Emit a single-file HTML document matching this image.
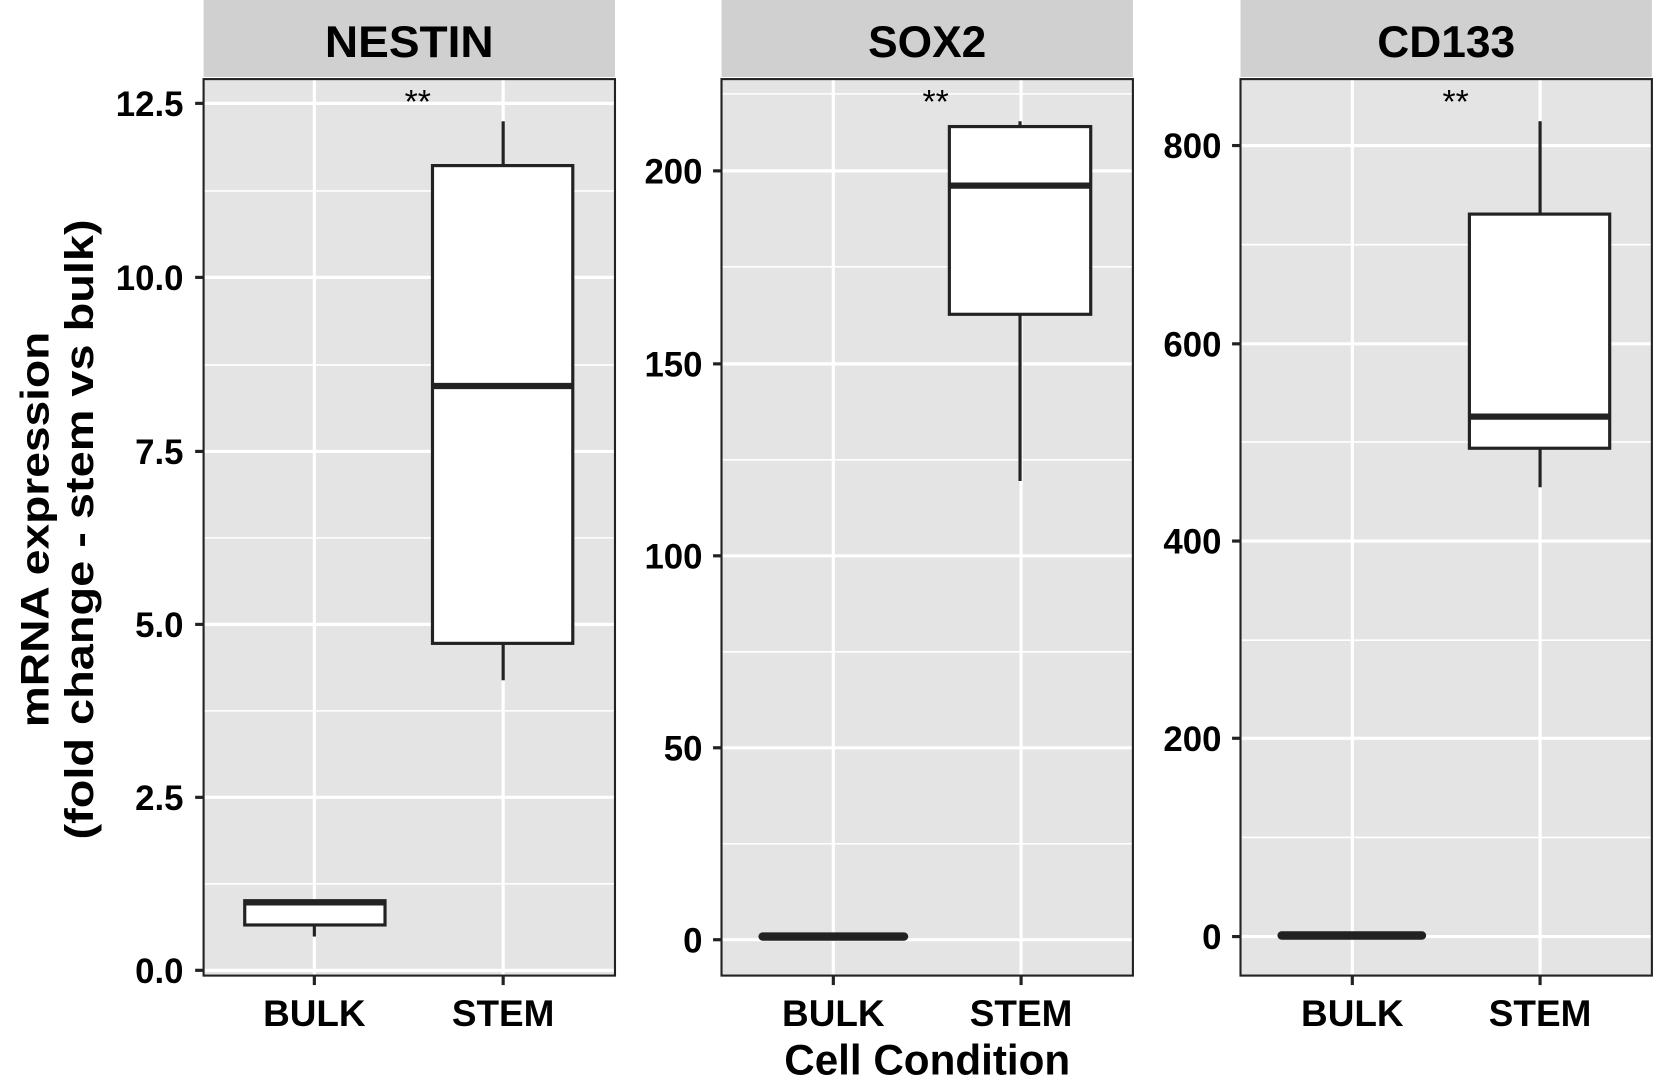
<!DOCTYPE html>
<html><head><style>html,body{margin:0;padding:0;background:#fff}svg{display:block}</style></head>
<body>
<svg width="1654" height="1080" viewBox="0 0 1568 1024" preserveAspectRatio="none" xmlns="http://www.w3.org/2000/svg" font-family="Liberation Sans, Arial, sans-serif" font-weight="bold">
<rect width="1568" height="1024" fill="#fff"/>
<!-- Panel 1 -->
<g>
<rect x="193" y="0" width="390" height="73" fill="#d0d0d0"/>
<text x="388" y="54" font-size="42" text-anchor="middle" textLength="160" lengthAdjust="spacingAndGlyphs">NESTIN</text>
<rect x="193" y="75" width="390" height="850" fill="#e4e4e4"/>
<g stroke="#fff" stroke-width="1.5"><line x1="193" x2="583" y1="181" y2="181"/><line x1="193" x2="583" y1="346" y2="346"/><line x1="193" x2="583" y1="510" y2="510"/><line x1="193" x2="583" y1="674" y2="674"/><line x1="193" x2="583" y1="838" y2="838"/></g>
<g stroke="#fff" stroke-width="3"><line x1="193" x2="583" y1="98" y2="98"/><line x1="193" x2="583" y1="263" y2="263"/><line x1="193" x2="583" y1="428" y2="428"/><line x1="193" x2="583" y1="592" y2="592"/><line x1="193" x2="583" y1="756" y2="756"/><line x1="193" x2="583" y1="920" y2="920"/><line x1="298" x2="298" y1="75" y2="925"/><line x1="477" x2="477" y1="75" y2="925"/></g>
<g stroke="#222" stroke-width="3"><line x1="298" x2="298" y1="877" y2="888"/><rect x="232" y="854" width="133" height="23" fill="#fff"/><line x1="232" x2="365" y1="856" y2="856" stroke-width="5"/>
<line x1="477" x2="477" y1="115" y2="157"/><line x1="477" x2="477" y1="610" y2="645"/><rect x="410" y="157" width="133" height="453" fill="#fff"/><line x1="410" x2="543" y1="366" y2="366" stroke-width="6"/></g>
<rect x="193" y="75" width="390" height="850" fill="none" stroke="#222" stroke-width="2"/>
<text x="396" y="107" font-size="32" font-weight="normal" text-anchor="middle">**</text>
<g stroke="#222" stroke-width="3"><line x1="185" x2="193" y1="98" y2="98"/><line x1="185" x2="193" y1="263" y2="263"/><line x1="185" x2="193" y1="428" y2="428"/><line x1="185" x2="193" y1="592" y2="592"/><line x1="185" x2="193" y1="756" y2="756"/><line x1="185" x2="193" y1="920" y2="920"/><line x1="298" x2="298" y1="925" y2="934"/><line x1="477" x2="477" y1="925" y2="934"/></g>
<g font-size="33" text-anchor="end"><text x="174" y="110">12.5</text><text x="174" y="275">10.0</text><text x="174" y="440">7.5</text><text x="174" y="604">5.0</text><text x="174" y="768">2.5</text><text x="174" y="932">0.0</text></g>
<g font-size="35" text-anchor="middle"><text x="298" y="973">BULK</text><text x="477" y="973">STEM</text></g>
</g>
<!-- Panel 2 -->
<g>
<rect x="684" y="0" width="390" height="73" fill="#d0d0d0"/>
<text x="879" y="54" font-size="42" text-anchor="middle">SOX2</text>
<rect x="684" y="75" width="390" height="850" fill="#e4e4e4"/>
<g stroke="#fff" stroke-width="1.5"><line x1="684" x2="1074" y1="253" y2="253"/><line x1="684" x2="1074" y1="436" y2="436"/><line x1="684" x2="1074" y1="618" y2="618"/><line x1="684" x2="1074" y1="800" y2="800"/><line x1="684" x2="1074" y1="89" y2="89"/></g>
<g stroke="#fff" stroke-width="3"><line x1="684" x2="1074" y1="162" y2="162"/><line x1="684" x2="1074" y1="345" y2="345"/><line x1="684" x2="1074" y1="527" y2="527"/><line x1="684" x2="1074" y1="709" y2="709"/><line x1="684" x2="1074" y1="891" y2="891"/><line x1="790" x2="790" y1="75" y2="925"/><line x1="968" x2="968" y1="75" y2="925"/></g>
<g stroke="#222" stroke-width="3"><line x1="723" x2="857" y1="888" y2="888" stroke-width="8" stroke-linecap="round"/>
<line x1="967" x2="967" y1="115" y2="120"/><line x1="967" x2="967" y1="298" y2="456"/><rect x="900" y="120" width="134" height="178" fill="#fff"/><line x1="900" x2="1034" y1="176" y2="176" stroke-width="6"/></g>
<rect x="684" y="75" width="390" height="850" fill="none" stroke="#222" stroke-width="2"/>
<text x="887" y="107" font-size="32" font-weight="normal" text-anchor="middle">**</text>
<g stroke="#222" stroke-width="3"><line x1="676" x2="684" y1="162" y2="162"/><line x1="676" x2="684" y1="345" y2="345"/><line x1="676" x2="684" y1="527" y2="527"/><line x1="676" x2="684" y1="709" y2="709"/><line x1="676" x2="684" y1="891" y2="891"/><line x1="790" x2="790" y1="925" y2="934"/><line x1="968" x2="968" y1="925" y2="934"/></g>
<g font-size="33" text-anchor="end"><text x="666" y="174">200</text><text x="666" y="357">150</text><text x="666" y="539">100</text><text x="666" y="721">50</text><text x="666" y="903">0</text></g>
<g font-size="35" text-anchor="middle"><text x="790" y="973">BULK</text><text x="968" y="973">STEM</text></g>
</g>
<!-- Panel 3 -->
<g>
<rect x="1176" y="0" width="390" height="73" fill="#d0d0d0"/>
<text x="1371" y="54" font-size="42" text-anchor="middle">CD133</text>
<rect x="1176" y="75" width="390" height="850" fill="#e4e4e4"/>
<g stroke="#fff" stroke-width="1.5"><line x1="1176" x2="1566" y1="232" y2="232"/><line x1="1176" x2="1566" y1="419" y2="419"/><line x1="1176" x2="1566" y1="607" y2="607"/><line x1="1176" x2="1566" y1="794" y2="794"/></g>
<g stroke="#fff" stroke-width="3"><line x1="1176" x2="1566" y1="138" y2="138"/><line x1="1176" x2="1566" y1="326" y2="326"/><line x1="1176" x2="1566" y1="513" y2="513"/><line x1="1176" x2="1566" y1="700" y2="700"/><line x1="1176" x2="1566" y1="888" y2="888"/><line x1="1282" x2="1282" y1="75" y2="925"/><line x1="1460" x2="1460" y1="75" y2="925"/></g>
<g stroke="#222" stroke-width="3"><line x1="1215" x2="1348" y1="887" y2="887" stroke-width="8" stroke-linecap="round"/>
<line x1="1460" x2="1460" y1="115" y2="203"/><line x1="1460" x2="1460" y1="425" y2="462"/><rect x="1393" y="203" width="133" height="222" fill="#fff"/><line x1="1393" x2="1526" y1="395" y2="395" stroke-width="6"/></g>
<rect x="1176" y="75" width="390" height="850" fill="none" stroke="#222" stroke-width="2"/>
<text x="1380" y="107" font-size="32" font-weight="normal" text-anchor="middle">**</text>
<g stroke="#222" stroke-width="3"><line x1="1168" x2="1176" y1="138" y2="138"/><line x1="1168" x2="1176" y1="326" y2="326"/><line x1="1168" x2="1176" y1="513" y2="513"/><line x1="1168" x2="1176" y1="700" y2="700"/><line x1="1168" x2="1176" y1="888" y2="888"/><line x1="1282" x2="1282" y1="925" y2="934"/><line x1="1460" x2="1460" y1="925" y2="934"/></g>
<g font-size="33" text-anchor="end"><text x="1158" y="150">800</text><text x="1158" y="338">600</text><text x="1158" y="525">400</text><text x="1158" y="712">200</text><text x="1158" y="900">0</text></g>
<g font-size="35" text-anchor="middle"><text x="1282" y="973">BULK</text><text x="1460" y="973">STEM</text></g>
</g>
<!-- axis titles -->
<text x="879" y="1019" font-size="40" text-anchor="middle">Cell Condition</text>
<g font-size="38" text-anchor="middle">
<text transform="translate(46,502) rotate(-90)" textLength="375" lengthAdjust="spacingAndGlyphs">mRNA expression</text>
<text transform="translate(88,502) rotate(-90)" textLength="588" lengthAdjust="spacingAndGlyphs">(fold change - stem vs bulk)</text>
</g>
</svg>
</body></html>
